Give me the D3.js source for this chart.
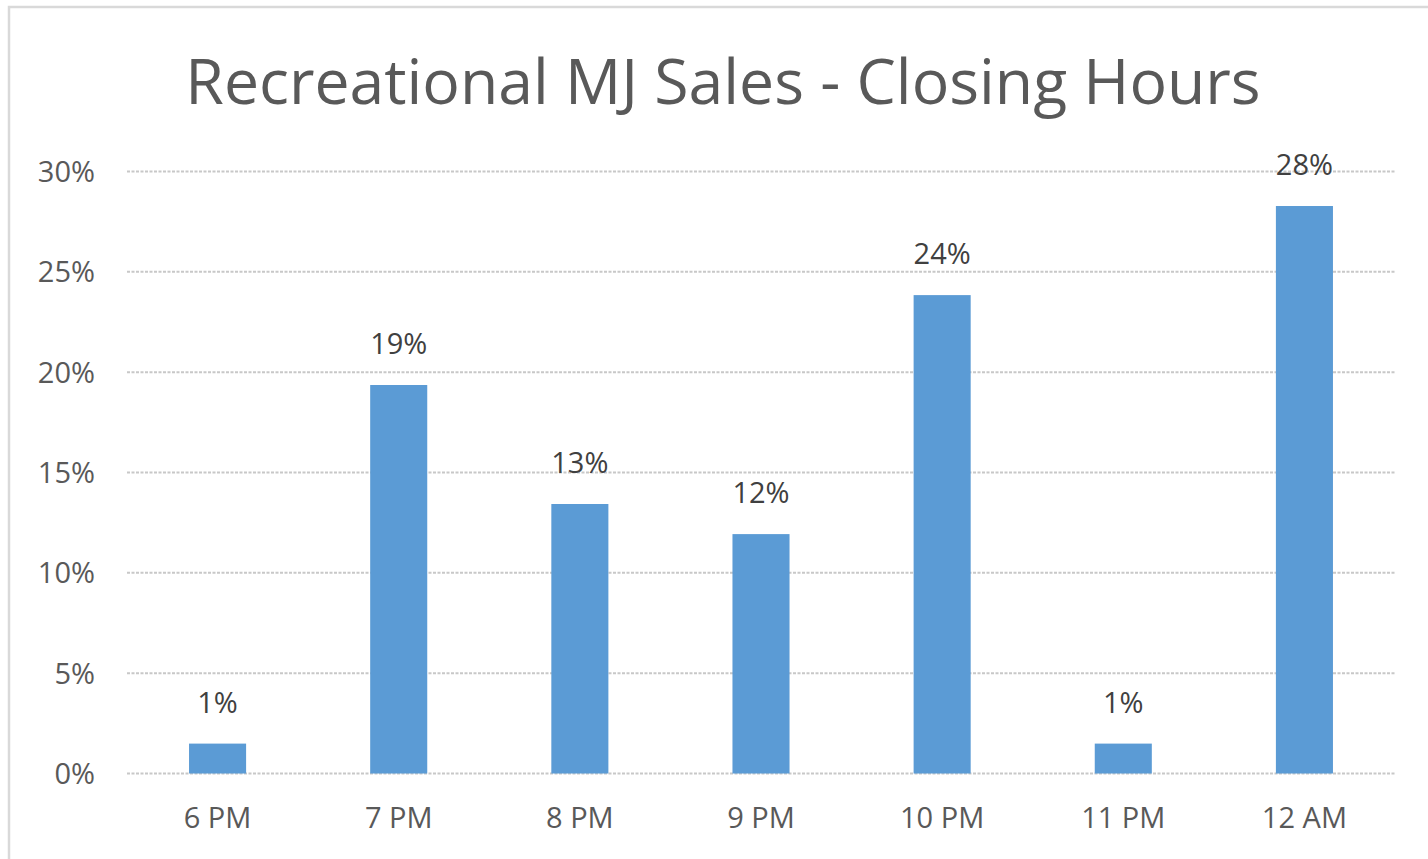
<!DOCTYPE html>
<html>
<head>
<meta charset="utf-8">
<script src="https://cdn.jsdelivr.net/npm/d3@7"></script>
<style>
  body { margin: 0; background: #fff; }
  text { font-family: "Open Sans", sans-serif; }
</style>
</head>
<body>
<div id="chart"></div>
<script>
// data
var hours = ["6 PM", "7 PM", "8 PM", "9 PM", "10 PM", "11 PM", "12 AM"]
var sales = [1.49, 19.36, 13.43, 11.93, 23.84, 1.49, 28.28]
var yTicks = [0, 5, 10, 15, 20, 25, 30]
var title = "Recreational MJ Sales - Closing Hours"

var W = 1428, H = 859
var margin = { top: 171.5, right: 33, bottom: 85.5, left: 127 }

var svg = d3.select("#chart")
  .append("svg")
  .attr("width", W)
  .attr("height", H)

// chart border (runs off the right/bottom edge like the screenshot)
svg.append("rect")
  .attr("x", 9).attr("y", 7)
  .attr("width", W + 20).attr("height", H + 20)
  .attr("fill", "none")
  .attr("stroke", "#d9d9d9")
  .attr("stroke-width", 2.5)

svg.append("text")
  .attr("x", 723)
  .attr("y", 104)
  .attr("text-anchor", "middle")
  .attr("fill", "#595959")
  .style("font-size", "62.5px")
  .text(title)

var x = d3.scaleBand()
  .domain(hours)
  .range([margin.left, W - margin.right])
  .paddingInner(0.685)
  .paddingOuter(0.3425)

var y = d3.scaleLinear()
  .domain([0, 30])
  .range([H - margin.bottom, margin.top])

// gridlines
svg.append("g")
  .selectAll("line")
  .data(yTicks)
  .enter()
  .append("line")
  .attr("x1", margin.left)
  .attr("x2", W - margin.right)
  .attr("y1", function (d) { return y(d) })
  .attr("y2", function (d) { return y(d) })
  .attr("stroke", "#c8c8c8")
  .attr("stroke-width", 2)
  .attr("stroke-dasharray", "3,1.5")

// y axis labels
var yAxis = svg.append("g")
  .attr("transform", "translate(" + (margin.left - 32) + ",0)")
  .call(d3.axisLeft(y).tickValues(yTicks).tickSize(0).tickPadding(0)
    .tickFormat(function (d) { return d + "%" }))
yAxis.select(".domain").remove()
yAxis.selectAll("text")
  .attr("fill", "#595959")
  .attr("dy", "0.34em")
  .style("font-size", "29px")
  .style("font-family", "'Open Sans', sans-serif")

// x axis labels
var xAxis = svg.append("g")
  .attr("transform", "translate(0," + (H - margin.bottom) + ")")
  .call(d3.axisBottom(x).tickSize(0).tickPadding(0))
xAxis.select(".domain").remove()
xAxis.selectAll("text")
  .attr("y", 54)
  .attr("dy", 0)
  .attr("fill", "#595959")
  .style("font-size", "29px")
  .style("font-family", "'Open Sans', sans-serif")

// bars
svg.append("g")
  .selectAll("rect")
  .data(sales)
  .enter()
  .append("rect")
  .attr("x", function (d, i) { return x(hours[i]) })
  .attr("y", function (d) { return y(d) })
  .attr("width", x.bandwidth())
  .attr("height", function (d) { return y(0) - y(d) })
  .attr("fill", "#5b9bd5")

// data labels
var fmt = d3.format(".0f")
svg.append("g")
  .selectAll("text")
  .data(sales)
  .enter()
  .append("text")
  .attr("x", function (d, i) { return x(hours[i]) + x.bandwidth() / 2 })
  .attr("y", function (d) { return y(d) - 31 })
  .attr("text-anchor", "middle")
  .attr("fill", "#404040")
  .style("font-size", "29px")
  .text(function (d) { return fmt(d) + "%" })
</script>
</body>
</html>
